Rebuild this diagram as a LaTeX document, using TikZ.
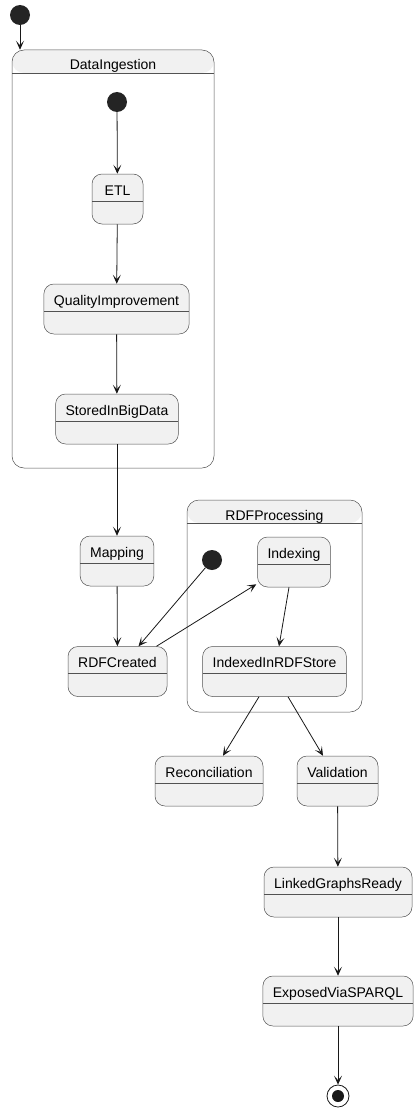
\documentclass[tikz,border=0pt]{standalone}
\usepackage{fontspec}
\setmainfont{Liberation Sans}
\usepackage{tikz}
\usetikzlibrary{arrows.meta, positioning, calc}
\definecolor{umlfill}{HTML}{F1F1F1}
\definecolor{umlline}{HTML}{181818}

\tikzset{
  state/.style={draw=umlline!75, line width=0.5pt, fill=umlfill, rounded corners=10pt,
    font=\fontsize{14}{16}\selectfont, inner xsep=10pt, inner ysep=0pt,
    text height=21pt, text depth=29pt, minimum width=#1,
    path picture={\draw[umlline!75, line width=0.5pt]
      ([yshift=-27pt]path picture bounding box.north west) --
      ([yshift=-27pt]path picture bounding box.north east);}},
  cluster/.style={draw=umlline!75, line width=0.5pt, fill=white, rounded corners=12pt,
    font=\fontsize{14}{16}\selectfont, inner sep=0pt, text height=20pt, text depth=#1,
    path picture={
      \fill[umlfill] (path picture bounding box.north west) rectangle
        ([yshift=-23pt]path picture bounding box.north east);
      \draw[umlline!75, line width=0.5pt]
        ([yshift=-23pt]path picture bounding box.north west) --
        ([yshift=-23pt]path picture bounding box.north east);}},
  startdot/.style={circle, fill=umlline!95, minimum size=20pt, inner sep=0pt},
  enddot/.style={circle, draw=umlline, line width=0.8pt, fill=white, minimum size=22pt, inner sep=0pt,
    path picture={\fill[umlline] (path picture bounding box.center) circle (6pt);}},
  flow/.style={draw=umlline, line width=0.8pt, -{Stealth[length=9pt, width=8pt, inset=4.5pt]}}
}

\begin{document}
\begin{tikzpicture}[x=1pt, y=-1pt]
    \useasboundingbox (0,0) rectangle (419,1113);

    % Composite states
    \node[cluster=398pt, minimum width=202pt] (ingest) at (113,259) {DataIngestion};
    \node[cluster=192pt, minimum width=175pt] (rdfproc) at (274.5,606) {RDFProcessing};

    % Initial and final pseudo states
    \node[startdot] (start) at (20,15) {};
    \node[startdot] (ingeststart) at (117,102) {};
    \node[startdot] (procstart) at (212,560) {};
    \node[enddot] (finish) at (338,1096) {};

    % Inside DataIngestion
    \node[state=51pt] (etl) at (117.5,199) {ETL};
    \node[state=145pt] (quality) at (116.5,309) {QualityImprovement};
    \node[state=122pt] (stored) at (117,419) {StoredInBigData};

    % Mapping step
    \node[state=72pt] (mapping) at (117,561) {Mapping};
    \node[state=99pt] (rdfcreated) at (117.5,671.5) {RDFCreated};

    % Inside RDFProcessing
    \node[state=72pt] (indexing) at (294,562) {Indexing};
    \node[state=143pt] (indexed) at (274.5,671.5) {IndexedInRDFStore};

    % Output steps
    \node[state=108pt] (reconcile) at (209,781) {Reconciliation};
    \node[state=81pt] (validation) at (337.5,781) {Validation};
    \node[state=148pt] (linked) at (338,892) {LinkedGraphsReady};
    \node[state=150pt] (exposed) at (338,1001) {ExposedViaSPARQL};

    % Transitions
    \draw[flow] (start) -- (start |- ingest.north);
    \draw[flow] (ingeststart) -- (etl);
    \draw[flow] (etl) -- (quality);
    \draw[flow] (quality) -- (stored);
    \draw[flow] (stored) -- (mapping);
    \draw[flow] (mapping) -- (rdfcreated);
    \draw[flow] (procstart) -- ([xshift=21pt]rdfcreated.north);
    \draw[flow] ([xshift=39pt]rdfcreated.north) -- ([xshift=-1pt,yshift=3pt]indexing.south west);
    \draw[flow] ([xshift=-5pt]indexing.south) -- ([xshift=4.5pt]indexed.north);
    \draw[flow] ([xshift=-15.5pt]indexed.south) -- ([xshift=14pt]reconcile.north);
    \draw[flow] ([xshift=13.5pt]indexed.south) -- ([xshift=-14.5pt]validation.north);
    \draw[flow] (validation) -- (linked);
    \draw[flow] (linked) -- (exposed);
    \draw[flow] (exposed) -- (finish);

\end{tikzpicture}
\end{document}
